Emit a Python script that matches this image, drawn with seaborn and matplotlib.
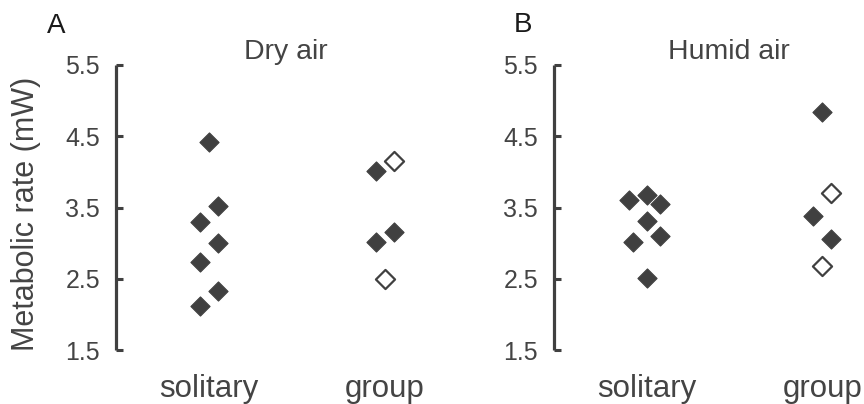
import pandas as pd
import matplotlib
matplotlib.use('Agg')
import matplotlib.pyplot as plt
import seaborn as sns

# Values (metabolic rate, mW)
groups = ['solitary', 'group']
y_ticks = [1.5, 2.5, 3.5, 4.5, 5.5]

dry_solitary = [4.42, 3.52, 3.29, 3.00, 2.73, 2.33, 2.12]
dry_solitary_slot = [0, 1, -1, 1, -1, 1, -1]
dry_group = [4.01, 4.15, 3.16, 3.01, 2.49]
dry_group_slot = [-1, 1, 1, -1, 0]
dry_group_open = [False, True, False, False, True]

humid_solitary = [3.60, 3.67, 3.55, 3.31, 3.01, 3.10, 2.51]
humid_solitary_slot = [-2, 0, 1.5, 0, -1.5, 1.5, 0]
humid_group = [4.84, 3.70, 3.38, 3.06, 2.68]
humid_group_slot = [0, 1, -1, 1, 0]
humid_group_open = [False, True, False, False, True]


def make_frame(sol, sol_slot, grp, grp_slot, grp_open):
    a = pd.DataFrame({'condition': 'solitary', 'rate': sol,
                      'slot': sol_slot, 'open': False})
    b = pd.DataFrame({'condition': 'group', 'rate': grp,
                      'slot': grp_slot, 'open': grp_open})
    df = pd.concat([a, b], ignore_index=True)
    df['x'] = df['condition'].map({g: i for i, g in enumerate(groups)}) + df['slot'] * 0.051
    return df


dry = make_frame(dry_solitary, dry_solitary_slot, dry_group, dry_group_slot, dry_group_open)
humid = make_frame(humid_solitary, humid_solitary_slot, humid_group, humid_group_slot, humid_group_open)

sns.set_theme(style='white')
plt.rcParams['font.family'] = ['Liberation Sans', 'DejaVu Sans']

dark = '#404040'
fig = plt.figure(figsize=(8.64, 4.04), dpi=100)
ax_a = fig.add_axes([116 / 864, 54 / 404, 324 / 864, 285 / 404])
ax_b = fig.add_axes([554 / 864, 54 / 404, 304 / 864, 285 / 404])

panels = [(ax_a, dry, 'Dry air', (-0.528, 1.3125), 0.435),
          (ax_b, humid, 'Humid air', (-0.528, 1.203), 0.47)]

for ax, df, title, xlim, title_x in panels:
    filled = df[~df['open']]
    hollow = df[df['open']]
    sns.scatterplot(data=filled, x='x', y='rate', marker='D', s=95,
                    color=dark, edgecolor=dark, linewidth=0.8, ax=ax, legend=False)
    sns.scatterplot(data=hollow, x='x', y='rate', marker='D', s=95,
                    color='white', edgecolor=dark, linewidth=1.6, ax=ax, legend=False)
    ax.set_xlim(*xlim)
    ax.set_ylim(1.5, 5.5)
    ax.set_yticks(y_ticks)
    ax.set_yticklabels([f'{t:.1f}' for t in y_ticks])
    ax.set_xticks(range(len(groups)))
    ax.set_xticklabels(groups)
    ax.set_xlabel('')
    ax.set_ylabel('')
    for side in ['top', 'right', 'bottom']:
        ax.spines[side].set_visible(False)
    ax.spines['left'].set_color(dark)
    ax.spines['left'].set_linewidth(2.3)
    ax.spines['left'].set_capstyle('butt')
    ax.tick_params(axis='y', direction='in', length=5, width=2.2, color=dark,
                   pad=11.5, labelsize=18, labelcolor='#444444', left=True)
    ax.tick_params(axis='x', length=0, pad=17, labelsize=22.5, labelcolor='#444444')
    ax.text(title_x, 5.585, title, ha='center', va='baseline', fontsize=20.5,
            color='#444444')
    ax.set_facecolor('white')

ax_a.set_ylabel('Metabolic rate (mW)', fontsize=22, color='#444444')
ax_a.yaxis.set_label_coords(-0.232, 0.479)

fig.text(56 / 864, 1 - 33 / 404, 'A', ha='center', va='baseline', fontsize=20, color='#1a1a1a')
fig.text(523 / 864, 1 - 32 / 404, 'B', ha='center', va='baseline', fontsize=20, color='#1a1a1a')

fig.savefig('out.png', dpi=100, facecolor='white')
